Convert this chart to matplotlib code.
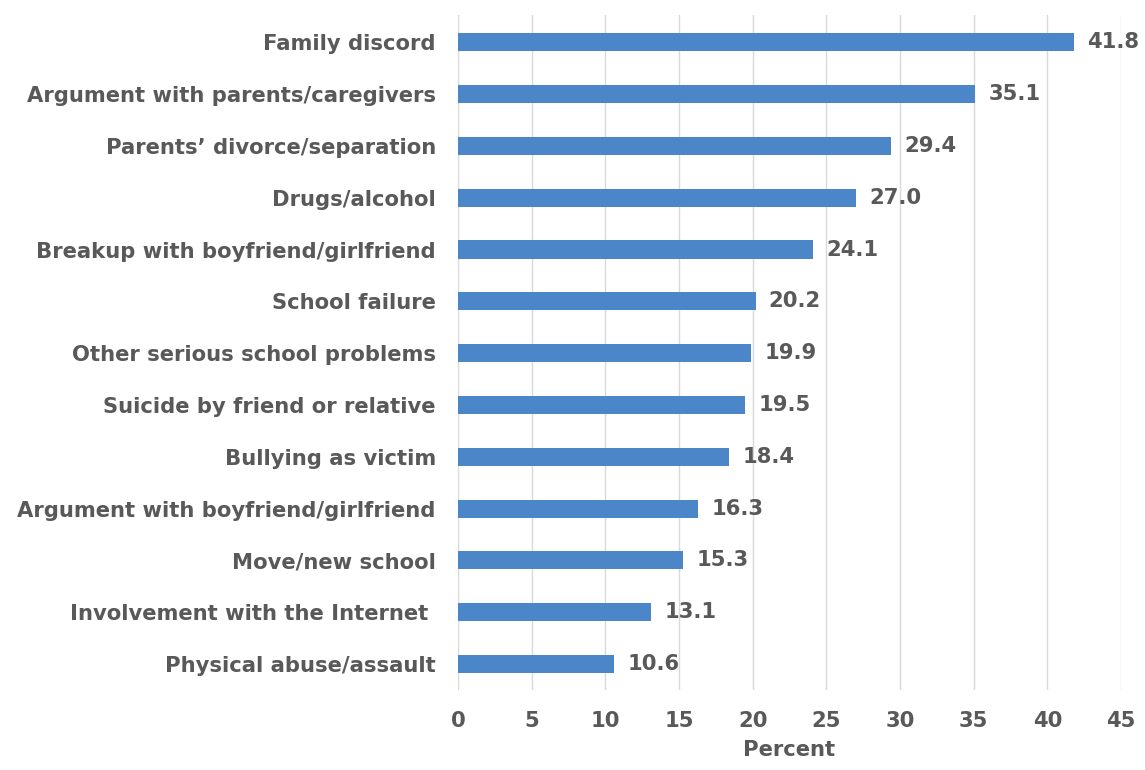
import numpy as np
import matplotlib
matplotlib.use("Agg")
import matplotlib.pyplot as plt

categories = ["Family discord", "Argument with parents/caregivers",
              "Parents\u2019 divorce/separation", "Drugs/alcohol",
              "Breakup with boyfriend/girlfriend", "School failure",
              "Other serious school problems", "Suicide by friend or relative",
              "Bullying as victim", "Argument with boyfriend/girlfriend",
              "Move/new school", "Involvement with the Internet ",
              "Physical abuse/assault"]
values = [41.8, 35.1, 29.4, 27.0, 24.1, 20.2, 19.9, 19.5, 18.4, 16.3, 15.3, 13.1, 10.6]
xticks = [0, 5, 10, 15, 20, 25, 30, 35, 40, 45]

txt = "#595959"
bar_color = "#4a86c8"
fs = 15.2

plt.rcParams['font.family'] = ['DejaVu Sans']
plt.rcParams['font.weight'] = 'bold'

fig = plt.figure(figsize=(11.45, 7.7), dpi=100)
ax = fig.add_axes([0.4, 0.104, 0.579, 0.876])

y = np.arange(len(categories))
ax.barh(y, values, height=0.35, color=bar_color, zorder=3)
for yi, v in zip(y, values):
    ax.text(v + 0.9, yi, "%.1f" % v, va="center", ha="left",
            fontsize=fs, color=txt, fontweight="bold")

ax.set_yticks(y)
ax.set_yticklabels(categories, fontsize=fs, color=txt, fontweight="bold")
ax.set_ylim(len(categories) - 0.5, -0.52)
ax.set_xlim(0, 45)
ax.set_xticks(xticks)
ax.set_xticklabels([str(t) for t in xticks], fontsize=fs, color=txt, fontweight="bold")
ax.set_xlabel("Percent", fontsize=fs, color=txt, fontweight="bold", labelpad=7)

ax.grid(axis="x", color="#d9d9d9", linewidth=1, zorder=0)
for s in ax.spines.values():
    s.set_visible(False)
ax.tick_params(axis="y", length=0, pad=16)
ax.tick_params(axis="x", length=0, pad=15)

fig.savefig("out.png", dpi=100)
